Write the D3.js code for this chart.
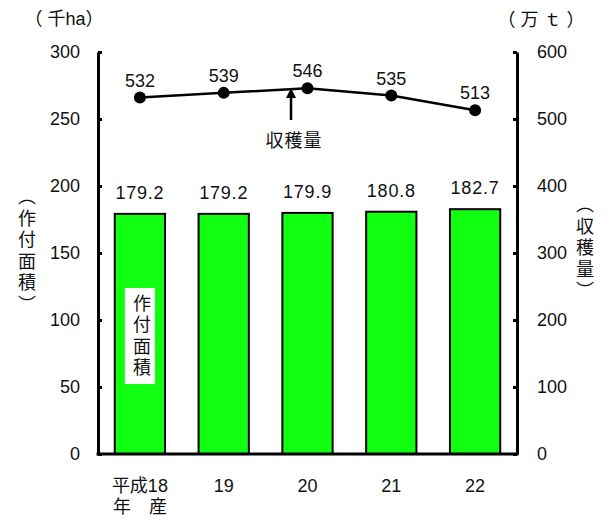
<!DOCTYPE html>
<html><head><meta charset="utf-8">
<script src="https://cdn.jsdelivr.net/npm/d3@7"></script>
<style>
body{margin:0;background:#fff;}
text{font-family:"Liberation Sans","Noto Sans CJK JP",sans-serif;fill:#111;}
</style></head><body>
<svg id="c" width="611" height="520"></svg>
<script>
const categories = ["平成18", "19", "20", "21", "22"];
const areaValues = [179.2, 179.2, 179.9, 180.8, 182.7];
const harvestValues = [532, 539, 546, 535, 513];
const leftTicks = [0, 50, 100, 150, 200, 250, 300];
const rightTicks = [0, 100, 200, 300, 400, 500, 600];

const svg = d3.select("#c");
const L = 98, R = 517, T = 52, B = 454;
const FS = 18;
const CJK = "Noto Sans CJK JP";
const x = d3.scaleBand().domain(categories).range([L, R]).paddingInner(0.4).paddingOuter(0.2);
const yL = d3.scaleLinear().domain([0, 300]).range([B, T]);
const yR = d3.scaleLinear().domain([0, 600]).range([B, T]);

// bars
svg.selectAll("rect.bar").data(areaValues).join("rect")
  .attr("class","bar")
  .attr("x",(d,i)=>x(categories[i]))
  .attr("y",d=>yL(d))
  .attr("width",x.bandwidth())
  .attr("height",d=>B-yL(d))
  .attr("fill","#11ff11").attr("stroke","#000").attr("stroke-width",2);

// bar labels
svg.selectAll("text.bl").data(areaValues).join("text")
  .attr("x",(d,i)=>x(categories[i])+x.bandwidth()/2)
  .attr("y",d=>yL(d)-15)
  .attr("text-anchor","middle").attr("font-size",FS).attr("letter-spacing",0.8)
  .text(d=>d.toFixed(1));

// axes
const axL = d3.axisLeft(yL).tickValues(leftTicks).tickSizeInner(-4).tickSizeOuter(0).tickPadding(18);
const gL = svg.append("g").attr("transform",`translate(${L},0)`).call(axL);
const axR = d3.axisRight(yR).tickValues(rightTicks).tickSizeInner(-4).tickSizeOuter(0).tickPadding(20);
const gR = svg.append("g").attr("transform",`translate(${R},0)`).call(axR);
[gL,gR].forEach(g=>{
  g.select(".domain").attr("stroke","#000").attr("stroke-width",3);
  g.selectAll(".tick line").attr("stroke","#000").attr("stroke-width",3);
  g.selectAll(".tick text").attr("font-size",FS).attr("font-family","Liberation Sans, sans-serif").attr("fill","#111");
});
gR.selectAll(".tick text").attr("x",20);
// bottom axis line
svg.append("line").attr("x1",L-1.5).attr("x2",R+1.5).attr("y1",B).attr("y2",B).attr("stroke","#000").attr("stroke-width",3);

// x labels
svg.selectAll("text.xl").data(categories).join("text")
  .attr("x",d=>x(d)+x.bandwidth()/2)
  .attr("y",492).attr("text-anchor","middle").attr("font-size",FS)
  .text(d=>d);
svg.append("text").attr("x",x(categories[0])+x.bandwidth()/2).attr("y",513)
  .attr("text-anchor","middle").attr("font-size",FS).attr("font-family",CJK).text("年　産");

// line
const line = d3.line().x((d,i)=>x(categories[i])+x.bandwidth()/2).y(d=>yR(d));
svg.append("path").datum(harvestValues).attr("d",line).attr("fill","none").attr("stroke","#000").attr("stroke-width",2.5);
svg.selectAll("circle.pt").data(harvestValues).join("circle")
  .attr("cx",(d,i)=>x(categories[i])+x.bandwidth()/2).attr("cy",d=>yR(d)).attr("r",6).attr("fill","#000");
svg.selectAll("text.pl").data(harvestValues).join("text")
  .attr("x",(d,i)=>x(categories[i])+x.bandwidth()/2).attr("y",d=>yR(d)-11)
  .attr("text-anchor","middle").attr("font-size",FS).text(d=>d);

// annotation arrow
const ax = 291;
svg.append("defs").append("marker").attr("id","ah").attr("viewBox","0 0 10 10").attr("refX",5).attr("refY",5)
  .attr("markerWidth",4).attr("markerHeight",4).attr("orient","auto")
  .append("path").attr("d","M0,0L10,5L0,10z").attr("fill","#000");
svg.append("line").attr("x1",ax).attr("x2",ax).attr("y1",120).attr("y2",93)
  .attr("stroke","#000").attr("stroke-width",2.5).attr("marker-end","url(#ah)");
svg.append("text").attr("x",294).attr("y",147).attr("text-anchor","middle").attr("font-size",FS)
  .attr("font-family",CJK).attr("letter-spacing",1).text("収穫量");

// unit labels
svg.append("text").attr("x",64).attr("y",25).attr("text-anchor","middle").attr("font-size",FS)
  .attr("font-family",CJK).text("（ 千ha）");
svg.append("text").attr("x",541).attr("y",26).attr("text-anchor","middle").attr("font-size",FS)
  .attr("font-family",CJK).text("（ 万 ｔ ）");

// vertical axis titles (vertical writing mode)
function vtitle(cx, cy, str, ls){
  svg.append("text").attr("x",cx).attr("y",cy)
    .attr("writing-mode","vertical-rl").style("writing-mode","vertical-rl")
    .attr("text-anchor","middle").attr("font-size",FS).attr("font-family",CJK)
    .attr("letter-spacing",ls).text(str);
}
vtitle(25, 252, "（作付面積）", 3.5);
vtitle(583, 249, "（収穫量）", 3.5);

// inner label
const bx = x(categories[0])+x.bandwidth()/2;
svg.append("rect").attr("x",bx-15).attr("y",288).attr("width",30).attr("height",96).attr("fill","#fff");
svg.append("text").attr("x",bx).attr("y",337)
  .attr("writing-mode","vertical-rl").style("writing-mode","vertical-rl")
  .attr("text-anchor","middle").attr("font-size",FS).attr("font-family",CJK)
  .attr("letter-spacing",3.5).text("作付面積");
</script></body></html>
